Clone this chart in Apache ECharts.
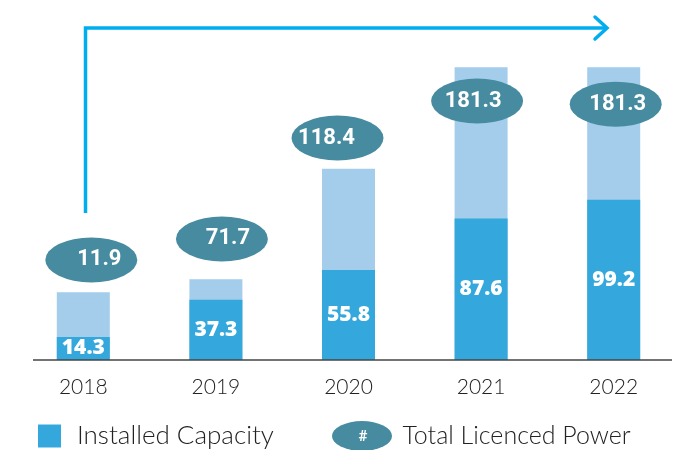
<!DOCTYPE html>
<html>
<head>
<meta charset="utf-8">
<script src="https://cdn.jsdelivr.net/npm/echarts@6/dist/echarts.min.js"></script>
<style>
  html, body { margin: 0; padding: 0; background: #fff; }
  #chart { width: 689px; height: 450px; }
</style>
</head>
<body>
<div id="chart"></div>
<script>
const years = ['2018', '2019', '2020', '2021', '2022'];
const installed = [14.3, 37.3, 55.8, 87.6, 99.2];
// light bar behind (height)
const licencedBar = [42, 50, 118.4, 181.3, 181.3];
// numbers printed in the ellipses and the height they sit at
const licencedLabels = ['11.9', '71.7', '118.4', '181.3', '181.3'];
const ellipseLevel = [62, 75, 137.5, 160.4, 158.5];
const ellipseShift = [8, 6, -11, -4, 2];

const ellipse = 'path://M0,50 A100,50 0 1,0 200,50 A100,50 0 1,0 0,50 Z';
const font = "'Lato', 'Open Sans', sans-serif";
const numFont = "'Roboto', 'Noto Sans', sans-serif";

var myChart = echarts.init(document.getElementById('chart'));

option = {
  animation: false,
  grid: { left: 17, right: 9, top: 21, bottom: 90 },
  xAxis: {
    type: 'category',
    data: years,
    axisLine: { show: false },
    axisTick: { show: false },
    axisLabel: { color: '#222', fontSize: 21, fontWeight: 300, fontFamily: font, margin: 17 }
  },
  yAxis: {
    type: 'value', min: 0, max: 210,
    show: false
  },
  legend: [
    {
      data: ['Installed Capacity'],
      left: 33, top: 418,
      itemWidth: 23, itemHeight: 23,
      icon: 'rect',
      textStyle: { color: '#222', fontSize: 26, fontWeight: 300, fontFamily: font, padding: [0, 0, 0, 11] }
    },
    {
      data: ['Total Licenced Power'],
      left: 327, top: 416,
      itemWidth: 63, itemHeight: 30,
      icon: ellipse,
      textStyle: { color: '#222', fontSize: 25, fontWeight: 300, fontFamily: font, padding: [0, 0, 0, 4] }
    }
  ],
  graphic: [
    {
      type: 'polyline',
      shape: { points: [[85.5, 213], [85.5, 28], [607, 28]] },
      style: { stroke: '#00aeef', lineWidth: 3.5, fill: null, lineJoin: 'miter' },
      z: 10
    },
    {
      type: 'polyline',
      shape: { points: [[595, 17], [607, 28], [595, 39]] },
      style: { stroke: '#00aeef', lineWidth: 3.5, fill: null, lineCap: 'round' },
      z: 10
    },
    {
      type: 'line',
      shape: { x1: 33, y1: 360, x2: 672, y2: 360 },
      style: { stroke: '#444', lineWidth: 1.5 },
      z: 10
    },
    {
      type: 'text',
      x: 363, y: 437,
      style: {
        text: '#', fill: '#fff', font: "bold 15px " + numFont,
        align: 'center', verticalAlign: 'middle'
      },
      z: 20
    }
  ],
  series: [
    {
      name: 'Licenced bar',
      type: 'bar',
      data: licencedBar,
      barWidth: 53,
      barGap: '-100%',
      itemStyle: { color: '#a3cdeb' },
      z: 2
    },
    {
      name: 'Installed Capacity',
      type: 'bar',
      data: installed,
      barWidth: 53,
      itemStyle: { color: '#34a8dc' },
      label: {
        show: true,
        position: 'inside',
        color: '#fff',
        fontSize: 21,
        fontWeight: 800,
        fontFamily: "'Open Sans', 'Noto Sans', sans-serif"
      },
      z: 3
    },
    {
      name: 'Total Licenced Power',
      type: 'scatter',
      symbol: ellipse,
      symbolSize: [92, 45],
      itemStyle: { color: '#478ba0', opacity: 1 },
      data: ellipseLevel.map((v, i) => ({
        value: v,
        symbolOffset: [ellipseShift[i], 0],
        label: { formatter: licencedLabels[i], offset: [ellipseShift[i], 0] }
      })),
      label: {
        show: true,
        position: 'inside',
        color: '#fff',
        fontSize: 22,
        fontWeight: 'bold',
        fontFamily: numFont
      },
      z: 5
    }
  ]
};

myChart.setOption(option);
</script>
</body>
</html>
